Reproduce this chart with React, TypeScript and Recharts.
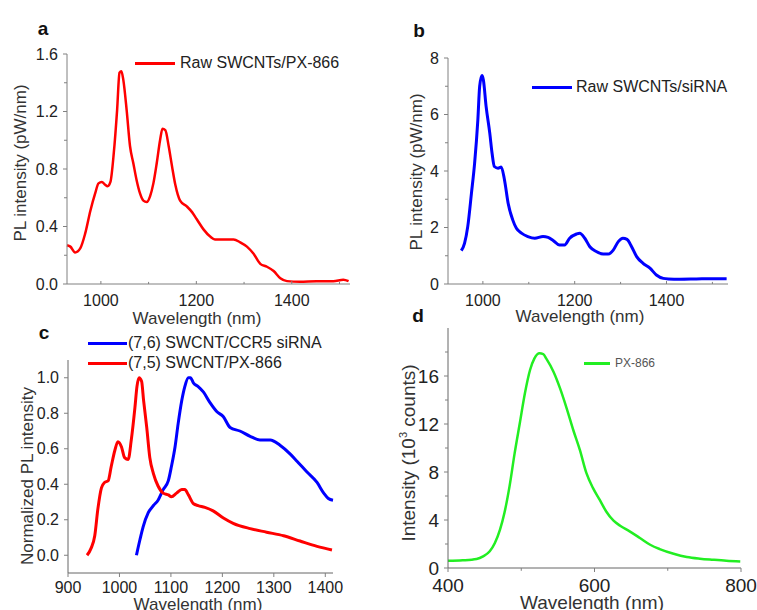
import React from 'react';
import { LineChart, Line, XAxis, YAxis, Legend } from 'recharts';

const FONT = '"Liberation Sans", Arial, sans-serif';
const AXIS = '#808080';
const TICK = '#222';

// a: raw SWCNTs / PX-866
const aWavelength = [929, 936, 946, 957, 967, 978, 988, 995, 1002, 1009, 1014, 1020, 1027, 1034, 1039, 1043, 1047, 1054, 1061, 1068, 1075, 1082, 1089, 1096, 1103, 1110, 1117, 1124, 1129, 1135, 1142, 1149, 1156, 1166, 1180, 1191, 1201, 1215, 1229, 1239, 1257, 1278, 1292, 1306, 1320, 1334, 1348, 1362, 1376, 1390, 1417, 1452, 1487, 1508, 1519];
const aIntensity = [0.27, 0.26, 0.22, 0.25, 0.35, 0.51, 0.63, 0.7, 0.71, 0.69, 0.68, 0.71, 0.91, 1.21, 1.47, 1.48, 1.42, 1.21, 0.96, 0.84, 0.72, 0.63, 0.58, 0.57, 0.61, 0.7, 0.84, 1.0, 1.08, 1.07, 0.96, 0.82, 0.69, 0.58, 0.54, 0.5, 0.45, 0.38, 0.33, 0.31, 0.31, 0.31, 0.29, 0.26, 0.21, 0.14, 0.12, 0.09, 0.04, 0.02, 0.015, 0.02, 0.02, 0.03, 0.02];

// b: raw SWCNTs / siRNA
const bWavelength = [953, 960, 967, 975, 982, 989, 993, 998, 1001, 1007, 1015, 1020, 1025, 1033, 1040, 1047, 1055, 1065, 1073, 1084, 1098, 1113, 1131, 1142, 1153, 1167, 1178, 1189, 1204, 1211, 1222, 1233, 1247, 1262, 1273, 1284, 1295, 1305, 1314, 1324, 1335, 1349, 1364, 1378, 1393, 1404, 1429, 1465, 1502, 1531];
const bIntensity = [1.18, 1.44, 2.03, 3.2, 4.28, 5.8, 7.0, 7.38, 7.23, 6.29, 5.34, 4.63, 4.16, 4.1, 4.14, 3.69, 2.86, 2.27, 1.97, 1.8, 1.68, 1.62, 1.68, 1.65, 1.54, 1.38, 1.38, 1.62, 1.77, 1.8, 1.62, 1.32, 1.15, 1.06, 1.06, 1.2, 1.5, 1.62, 1.58, 1.32, 0.97, 0.73, 0.56, 0.32, 0.2, 0.18, 0.17, 0.18, 0.19, 0.19];

// c: normalized spectra
const cBlueWavelength = [1033, 1040, 1046, 1056, 1066, 1075, 1085, 1095, 1101, 1108, 1114, 1121, 1127, 1134, 1138, 1144, 1153, 1163, 1176, 1189, 1202, 1215, 1234, 1254, 1273, 1293, 1312, 1332, 1345, 1364, 1384, 1397, 1406, 1415];
const cBlueIntensity = [0.0, 0.09, 0.16, 0.24, 0.28, 0.31, 0.37, 0.42, 0.5, 0.61, 0.74, 0.87, 0.95, 1.0, 1.0, 0.97, 0.95, 0.92, 0.86, 0.81, 0.78, 0.72, 0.7, 0.67, 0.65, 0.65, 0.62, 0.57, 0.53, 0.47, 0.41, 0.35, 0.32, 0.31];
const cRedWavelength = [937, 945, 952, 958, 965, 971, 978, 984, 991, 997, 1004, 1010, 1017, 1023, 1030, 1034, 1038, 1043, 1047, 1053, 1059, 1066, 1075, 1085, 1095, 1101, 1111, 1121, 1127, 1134, 1144, 1153, 1166, 1182, 1202, 1221, 1254, 1286, 1319, 1351, 1384, 1413];
const cRedIntensity = [0.0, 0.04, 0.11, 0.26, 0.38, 0.41, 0.42, 0.5, 0.59, 0.64, 0.61, 0.55, 0.54, 0.65, 0.83, 0.95, 1.0, 0.98, 0.87, 0.72, 0.55, 0.46, 0.39, 0.35, 0.34, 0.33, 0.35, 0.37, 0.37, 0.34, 0.29, 0.28, 0.27, 0.25, 0.21, 0.18, 0.15, 0.13, 0.11, 0.08, 0.05, 0.03];
const cSeriesNames = ['(7,6) SWCNT/CCR5 siRNA', '(7,5) SWCNT/PX-866'];

// d: PX-866 fluorescence
const dWavelength = [400, 420, 439, 448, 457, 464, 471, 477, 484, 491, 498, 505, 512, 518, 525, 530, 534, 544, 553, 562, 571, 580, 589, 598, 607, 616, 626, 635, 648, 662, 676, 689, 708, 726, 744, 762, 780, 799];
const dIntensity = [0.6, 0.64, 0.75, 0.97, 1.39, 2.08, 3.19, 4.58, 6.8, 9.57, 12.06, 14.56, 16.5, 17.47, 17.89, 17.83, 17.47, 16.36, 14.97, 13.31, 11.5, 9.84, 7.9, 6.66, 5.69, 4.71, 3.94, 3.52, 3.05, 2.5, 1.94, 1.58, 1.19, 0.92, 0.78, 0.69, 0.61, 0.55];

const zip = (xs: number[], ys: number[]) => xs.map((x, i) => ({ x, y: ys[i] }));
const isMajor = (v: number, majors: number[]) => majors.some((m) => Math.abs(m - v) < 1e-6);

const XTick = (props: any) => {
  const { x, y, payload, majors, len, offset, size, fmt } = props;
  const major = isMajor(payload.value, majors);
  const l = major ? len : len * 0.7;
  return (
    <g>
      <line x1={x} x2={x} y1={y} y2={y + l} stroke={AXIS} />
      {major && (
        <text x={x} y={y + offset} textAnchor="middle" dominantBaseline="central" fontSize={size} fill={TICK} fontFamily={FONT}>
          {fmt(payload.value)}
        </text>
      )}
    </g>
  );
};

const YTick = (props: any) => {
  const { x, y, payload, majors, size, fmt } = props;
  const major = isMajor(payload.value, majors);
  return (
    <g>
      <line x1={x} x2={x - (major ? 4 : 3)} y1={y} y2={y} stroke={AXIS} />
      {major && (
        <text x={x - 9} y={y} textAnchor="end" dominantBaseline="central" fontSize={size} fill={TICK} fontFamily={FONT}>
          {fmt(payload.value)}
        </text>
      )}
    </g>
  );
};

const LegendRows = ({ payload, lineLen, gap, size, color, order }: any) => {
  const items = [...(payload || [])];
  if (order) items.sort((p: any, q: any) => order.indexOf(p.value) - order.indexOf(q.value));
  return (
    <div style={{ fontFamily: FONT, fontSize: size, color }}>
      {items.map((e: any) => (
        <div key={e.value} style={{ display: 'flex', alignItems: 'center', height: 20, whiteSpace: 'nowrap' }}>
          <span style={{ display: 'inline-block', width: lineLen, height: 3, background: e.color, marginRight: gap }} />
          <span>{e.value}</span>
        </div>
      ))}
    </div>
  );
};

const Txt = ({ x, y, size, children, rotate, bold }: any) => (
  <div
    style={{
      position: 'absolute',
      left: x,
      top: y,
      transform: `translate(-50%, -50%)${rotate ? ' rotate(-90deg)' : ''}`,
      fontFamily: FONT,
      fontSize: size,
      fontWeight: bold ? 'bold' : 'normal',
      color: bold ? '#111' : '#333',
      whiteSpace: 'nowrap',
      lineHeight: 1,
    }}
  >
    {children}
  </div>
);

const f1 = (v: number) => v.toFixed(1);
const f0 = (v: number) => String(v);

const App: React.FC = () => (
  <div style={{ position: 'absolute', left: 0, top: 0, width: 757, height: 610, background: '#fff', overflow: 'hidden' }}>
    {/* panel a */}
    <div style={{ position: 'absolute', left: 0, top: 0 }}>
      <LineChart width={380} height={310} margin={{ top: 54, right: 30, bottom: 6, left: 27 }}>
        <XAxis type="number" dataKey="x" domain={[929, 1522]} ticks={[1000, 1100, 1200, 1300, 1400, 1500]} interval={0}
          height={20} tickSize={0} tickMargin={0} axisLine={{ stroke: AXIS }} tickLine={false}
          tick={(p: any) => <XTick {...p} majors={[1000, 1200, 1400]} len={-3} offset={16} size={16} fmt={f0} />} />
        <YAxis type="number" dataKey="y" domain={[0, 1.6]} ticks={[0, 0.2, 0.4, 0.6, 0.8, 1.0, 1.2, 1.4, 1.6]} interval={0}
          width={40} tickSize={0} tickMargin={0} axisLine={{ stroke: AXIS }} tickLine={false}
          tick={(p: any) => <YTick {...p} majors={[0, 0.4, 0.8, 1.2, 1.6]} size={16} fmt={f1} />} />
        <Legend layout="vertical" align="center" verticalAlign="middle" wrapperStyle={{ left: 135, top: 53, width: 240 }}
          content={(p: any) => <LegendRows payload={p.payload} lineLen={40} gap={5} size={16} color="#222" />} />
        <Line data={zip(aWavelength, aIntensity)} dataKey="y" name="Raw SWCNTs/PX-866" type="monotone" stroke="#ff0000"
          strokeWidth={2.5} dot={false} isAnimationActive={false} />
      </LineChart>
    </div>

    {/* panel b */}
    <div style={{ position: 'absolute', left: 380, top: 0 }}>
      <LineChart width={377} height={310} margin={{ top: 58, right: 29, bottom: 6, left: 28 }}>
        <XAxis type="number" dataKey="x" domain={[924, 1534]} ticks={[1000, 1100, 1200, 1300, 1400, 1500]} interval={0}
          height={20} tickSize={0} tickMargin={0} axisLine={{ stroke: AXIS }} tickLine={false}
          tick={(p: any) => <XTick {...p} majors={[1000, 1200, 1400]} len={-3} offset={16} size={16} fmt={f0} />} />
        <YAxis type="number" dataKey="y" domain={[0, 8]} ticks={[0, 1, 2, 3, 4, 5, 6, 7, 8]} interval={0}
          width={40} tickSize={0} tickMargin={0} axisLine={{ stroke: AXIS }} tickLine={false}
          tick={(p: any) => <YTick {...p} majors={[0, 2, 4, 6, 8]} size={16} fmt={f0} />} />
        <Legend layout="vertical" align="center" verticalAlign="middle" wrapperStyle={{ left: 152, top: 77, width: 220 }}
          content={(p: any) => <LegendRows payload={p.payload} lineLen={40} gap={4} size={16} color="#222" />} />
        <Line data={zip(bWavelength, bIntensity)} dataKey="y" name="Raw SWCNTs/siRNA" type="monotone" stroke="#0000ff"
          strokeWidth={3} dot={false} isAnimationActive={false} />
      </LineChart>
    </div>

    {/* panel c */}
    <div style={{ position: 'absolute', left: 0, top: 330 }}>
      <LineChart width={380} height={270} margin={{ top: 30, right: 47, bottom: 7, left: 28 }}>
        <XAxis type="number" dataKey="x" domain={[900, 1415]} ticks={[900, 1000, 1100, 1200, 1300, 1400]} interval={0}
          height={20} tickSize={0} tickMargin={0} axisLine={{ stroke: '#666' }} tickLine={false}
          tick={(p: any) => <XTick {...p} majors={[900, 1000, 1100, 1200, 1300, 1400]} len={4} offset={14} size={16} fmt={f0} />} />
        <YAxis type="number" dataKey="y" domain={[-0.1, 1.1]} ticks={[0, 0.2, 0.4, 0.6, 0.8, 1.0]} interval={0}
          width={40} tickSize={0} tickMargin={0} axisLine={{ stroke: '#666' }} tickLine={false}
          tick={(p: any) => <YTick {...p} majors={[0, 0.2, 0.4, 0.6, 0.8, 1.0]} size={16} fmt={f1} />} />
        <Legend layout="vertical" align="center" verticalAlign="middle" wrapperStyle={{ left: 88, top: 3, width: 280 }}
          content={(p: any) => <LegendRows payload={p.payload} order={cSeriesNames} lineLen={39} gap={1} size={16} color="#222" />} />
        <Line data={zip(cBlueWavelength, cBlueIntensity)} dataKey="y" name={cSeriesNames[0]} type="monotone" stroke="#0000ff"
          strokeWidth={3} dot={false} isAnimationActive={false} />
        <Line data={zip(cRedWavelength, cRedIntensity)} dataKey="y" name={cSeriesNames[1]} type="monotone" stroke="#ff0000"
          strokeWidth={3} dot={false} isAnimationActive={false} />
      </LineChart>
    </div>

    {/* panel d */}
    <div style={{ position: 'absolute', left: 380, top: 310 }}>
      <LineChart width={377} height={290} margin={{ top: 18, right: 16, bottom: 12, left: 28 }}>
        <XAxis type="number" dataKey="x" domain={[400, 800]} ticks={[400, 500, 600, 700, 800]} interval={0}
          height={20} tickSize={0} tickMargin={0} axisLine={{ stroke: '#666' }} tickLine={false}
          tick={(p: any) => <XTick {...p} majors={[400, 600, 800]} len={4} offset={17} size={19} fmt={f0} />} />
        <YAxis type="number" dataKey="y" domain={[0, 20]} ticks={[0, 2, 4, 6, 8, 10, 12, 14, 16, 18]} interval={0}
          width={40} tickSize={0} tickMargin={0} axisLine={{ stroke: '#666' }} tickLine={false}
          tick={(p: any) => <YTick {...p} majors={[0, 4, 8, 12, 16]} size={19} fmt={f0} />} />
        <Legend layout="vertical" align="center" verticalAlign="middle" wrapperStyle={{ left: 204, top: 43, width: 120 }}
          content={(p: any) => <LegendRows payload={p.payload} lineLen={26} gap={5} size={12} color="#555" />} />
        <Line data={zip(dWavelength, dIntensity)} dataKey="y" name="PX-866" type="monotone" stroke="#22ee22"
          strokeWidth={2.5} dot={false} isAnimationActive={false} />
      </LineChart>
    </div>

    {/* panel letters and axis titles */}
    <Txt x={43} y={28} size={19} bold>a</Txt>
    <Txt x={419} y={30} size={19} bold>b</Txt>
    <Txt x={44} y={332} size={19} bold>c</Txt>
    <Txt x={418} y={315} size={19} bold>d</Txt>

    <Txt x={20} y={163} size={17} rotate>PL intensity (pW/nm)</Txt>
    <Txt x={197} y={318} size={17}>Wavelength (nm)</Txt>
    <Txt x={416} y={172} size={17} rotate>PL intensity (pW/nm)</Txt>
    <Txt x={580} y={316} size={17}>Wavelength (nm)</Txt>
    <Txt x={27} y={476} size={17} rotate>Normalized PL intensity</Txt>
    <Txt x={198} y={604} size={17}>Wavelength (nm)</Txt>
    <Txt x={408} y={453} size={19} rotate>
      Intensity (10<sup style={{ fontSize: 11 }}>3</sup> counts)
    </Txt>
    <Txt x={592} y={602} size={19}>Wavelength (nm)</Txt>
  </div>
);

export default App;
